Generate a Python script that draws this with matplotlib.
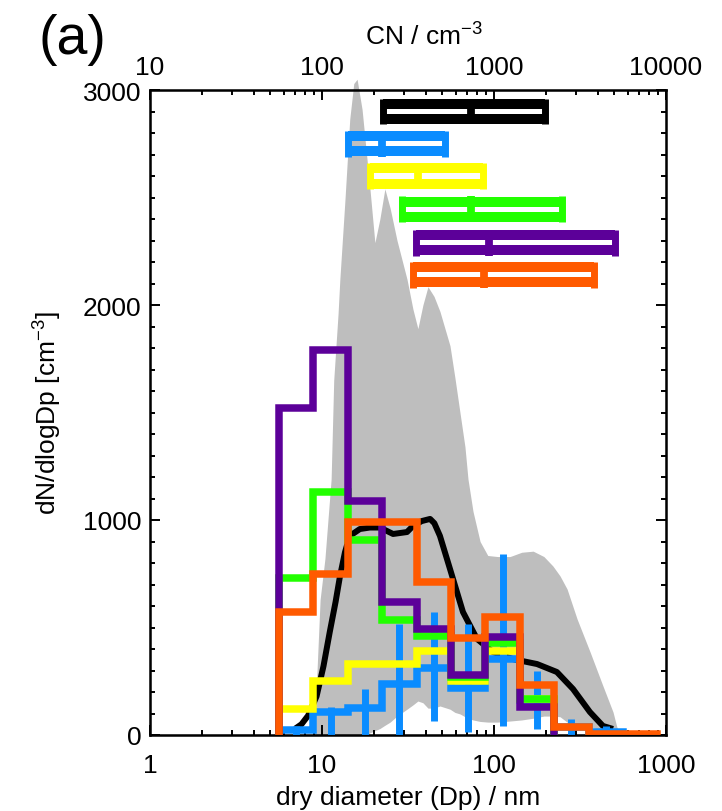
import numpy as np
import matplotlib
matplotlib.use('Agg')
import matplotlib.pyplot as plt
from matplotlib.ticker import LogLocator, NullFormatter, MultipleLocator

plt.rcParams['font.family'] = ['Liberation Sans', 'DejaVu Sans']
plt.rcParams['mathtext.fontset'] = 'custom'
plt.rcParams['mathtext.rm'] = 'Liberation Sans'
plt.rcParams['mathtext.it'] = 'Liberation Sans:italic'
plt.rcParams['mathtext.default'] = 'regular'

# ---------------- data ----------------
# size-bin edges (nm)
bin_edges = [5.62, 8.91, 14.1, 22.4, 35.5, 56.2, 89.1, 141, 224, 355, 562, 891]

orange_vals = [570, 750, 990, 990, 710, 452, 548, 232, 38, 5, 5]
purple_vals = [1520, 1790, 1090, 620, 493, 279, 455, 130]
green_vals = [730, 1130, 905, 537, 462, 272, 428, 168]
yellow_vals = [122, 249, 328, 330, 392, 249, 392, 168]
blue_vals = [22, 108, 125, 235, 312, 218, 355, 165, 35, 15]
blue_lo = [0, 0, 0, 0, 65, 14, 42, 28, 0, 0]
blue_hi = [42, 130, 214, 516, 572, 516, 842, 298, 74, 42]

# median size distribution (black line)
med_d = [7.0, 7.6, 8.3, 9.3, 10.2, 11.1, 12.0, 12.7, 13.6, 14.5, 16.6, 19.0, 21.7,
         25.9, 31.2, 33.8, 38.0, 42.5, 45.0, 48.5, 55.5, 66.0, 79.6, 98.6, 129,
         178, 232, 288, 361, 430, 492]
med_v = [30, 50, 90, 180, 320, 480, 620, 735, 850, 926, 958, 965, 965,
         935, 944, 972, 995, 1005, 985, 926, 772, 572, 447, 386, 353,
         330, 293, 214, 107, 42, 28]

# range envelope (grey shading)
env_d = [8.8, 9.3, 9.75, 10.4, 11.3, 11.7, 12.4, 12.7, 13.6, 14.5, 15.3, 16.0, 17.1,
         18.0, 19.0, 20.3, 21.7, 23.2, 24.9, 27.3, 31.2, 33.8, 36.1, 38.6, 41.3,
         44.8, 48.5, 55.5, 59.3, 63.4, 67.8, 70.6, 75.5, 83, 92, 105, 124, 145,
         169, 195, 220, 242, 266, 304, 362, 430, 492, 518, 545]
env_hi = [0, 250, 630, 820, 1190, 1650, 1960, 2120, 2490, 2865, 3030, 3050, 2910,
          2730, 2540, 2290, 2400, 2540, 2450, 2300, 2120, 1980, 1890, 2000, 2085,
          2040, 1970, 1810, 1660, 1500, 1340, 1190, 1040, 900, 835, 830, 830, 850,
          855, 830, 786, 740, 679, 540, 386, 228, 107, 37, 0]
env_lo = [0, 0, 0, 0, 0, 0, 0, 0, 0, 0, 0, 0, 0,
          0, 10, 20, 30, 45, 60, 88, 120, 140, 158, 150, 125,
          125, 135, 120, 105, 98, 85, 78, 70, 63, 60, 60, 65, 70,
          78, 88, 88, 85, 60, 42, 35, 25, 10, 5, 0]

# CN statistics (top axis): lower quartile, median, upper quartile
cn_lo = [226, 142, 190, 292, 352, 338]
cn_med = [735, 223, 362, 735, 935, 875]
cn_hi = [1980, 519, 863, 2483, 5050, 3810]
box_y = [2900, 2750, 2600, 2445, 2290, 2140]

# ---------------- style ----------------
C_ORANGE = '#ff5a00'
C_PURPLE = '#5c0099'
C_GREEN = '#22ff00'
C_YELLOW = '#ffff00'
C_BLUE = '#0a8cff'
C_GRAY = '#bebebe'
box_colors = ['black', C_BLUE, C_YELLOW, C_GREEN, C_PURPLE, C_ORANGE]

fig = plt.figure(figsize=(7.22, 8.12), dpi=100)
ax = fig.add_axes([150/722, 1-736/812, 516/722, 645/812])

ax.fill_between(env_d, env_lo, env_hi, color=C_GRAY, lw=0, zorder=1, clip_on=False)
ax.plot(med_d, med_v, color='black', lw=4.3, zorder=2, solid_capstyle='butt')

edges = np.array(bin_edges)
LW = 5.4
def steps(vals, color, z):
    n = len(vals)
    ax.stairs(vals, edges[:n+1], baseline=0, fill=False, color=color, lw=LW,
              zorder=z, joinstyle='miter', capstyle='butt')

steps(blue_vals, C_BLUE, 3)
centers = np.sqrt(edges[:-1]*edges[1:])[:len(blue_lo)]
ax.vlines(centers, blue_lo, blue_hi, color=C_BLUE, lw=5.0, zorder=3)
steps(yellow_vals, C_YELLOW, 4)
steps(green_vals, C_GREEN, 5)
steps(purple_vals, C_PURPLE, 6)
steps(orange_vals, C_ORANGE, 7)

ax.set_xscale('log')
ax.set_xlim(1, 1000)
ax.set_ylim(0, 3000)
ax.set_xticks([1, 10, 100, 1000])
ax.set_xticklabels(['1', '10', '100', '1000'])
ax.xaxis.set_minor_locator(LogLocator(base=10, subs=np.arange(2, 10)))
ax.xaxis.set_minor_formatter(NullFormatter())
ax.set_yticks([0, 1000, 2000, 3000])
ax.yaxis.set_minor_locator(MultipleLocator(100))
ax.tick_params(which='both', direction='in', top=False, right=True, width=1.4)
ax.tick_params(which='major', length=7.5, labelsize=19)
ax.tick_params(which='minor', length=3.8)
ax.tick_params(axis='x', which='major', pad=13)
ax.tick_params(axis='y', which='major', pad=6)
for s in ax.spines.values():
    s.set_linewidth(1.8)
ax.set_xlabel('dry diameter (Dp) / nm', fontsize=19, labelpad=6)
ax.set_ylabel('dN/dlogDp [cm$^{-3}$]', fontsize=19, labelpad=14)

ax2 = ax.twiny()
ax2.set_xscale('log')
ax2.set_xlim(10, 10000)
ax2.set_ylim(0, 3000)
ax2.set_xticks([10, 100, 1000, 10000])
ax2.set_xticklabels(['10', '100', '1000', '10000'])
ax2.xaxis.set_minor_locator(LogLocator(base=10, subs=np.arange(2, 10)))
ax2.xaxis.set_minor_formatter(NullFormatter())
ax2.tick_params(which='both', direction='in', width=1.4)
ax2.tick_params(which='major', length=7.5, labelsize=19, pad=8)
ax2.tick_params(which='minor', length=3.8)
ax2.set_xlabel('CN / cm$^{-3}$', fontsize=19, labelpad=2)
ax2.xaxis.set_label_coords(0.53, 1.0 + 45/645)

# CN box plots
half_in = 35
half_out = 60
for lo, md, hi, yc, col in zip(cn_lo, cn_med, cn_hi, box_y, box_colors):
    ax2.hlines([yc - half_in, yc + half_in], lo, hi, color=col, lw=7.2, zorder=5)
    ax2.vlines([lo, hi], yc - half_out, yc + half_out, color=col, lw=5.0, zorder=5)
    ax2.vlines([md], yc - half_out, yc + half_out, color=col, lw=5.6, zorder=5)

fig.text(38/722, 1-40/812, '(a)', fontsize=40, ha='left', va='center')

fig.savefig('out.png', dpi=100)
